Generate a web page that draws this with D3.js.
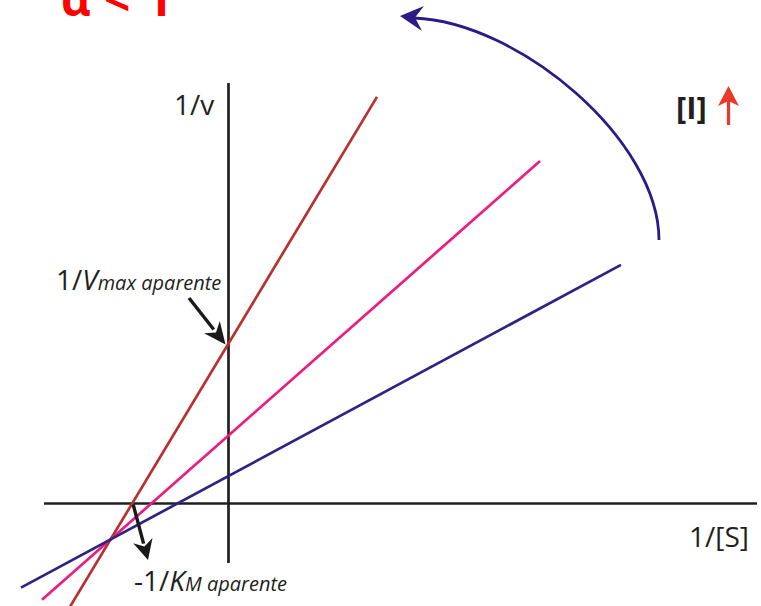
<!DOCTYPE html>
<html>
<head>
<meta charset="utf-8">
<script src="https://cdn.jsdelivr.net/npm/d3@7"></script>
<style>
  html, body { margin: 0; padding: 0; background: #ffffff; }
  svg { display: block; }
  text { font-family: "Open Sans", "Noto Sans", sans-serif; fill: #231f20; }
</style>
</head>
<body>
<script>
// Lineweaver-Burk plot, mixed inhibition (alpha < 1)
const seriesNames = ["[I] alta", "[I] media", "[I] = 0"];
const invVmax   = [1.60, 0.68, 0.275];    // y intercept: 1/Vmax aparente
const slopes    = [1.661, 0.881, 0.538];  // Km/Vmax aparente
const xFrom     = [-1.60, -1.865, -2.075];
const xTo       = [1.485, 3.115, 3.925];
const colors    = ["#b8312f", "#ec1c7e", "#2d2383"];

const W = 761, H = 606;
const svg = d3.select("body").append("svg").attr("width", W).attr("height", H);

const x = d3.scaleLinear().domain([-2.285, 5.325]).range([0, W]);
const y = d3.scaleLinear().domain([5.035, -1.025]).range([0, H]);

// axes
const axisX = [-1.845, 5.285];
const axisY = [-0.595, 4.205];
svg.append("line")
  .attr("x1", x(axisX[0])).attr("x2", x(axisX[1]))
  .attr("y1", y(0)).attr("y2", y(0))
  .attr("stroke", "#231f20").attr("stroke-width", 2.7);
svg.append("line")
  .attr("x1", x(0)).attr("x2", x(0))
  .attr("y1", y(axisY[0])).attr("y2", y(axisY[1]))
  .attr("stroke", "#231f20").attr("stroke-width", 2.7);

// inhibitor lines
const lineData = invVmax.map((b, i) => ({
  name: seriesNames[i], color: colors[i],
  pts: [xFrom[i], xTo[i]].map(v => [v, b + slopes[i] * v])
}));
const lineGen = d3.line().x(d => x(d[0])).y(d => y(d[1]));
svg.selectAll("path.serie").data(lineData).join("path")
  .attr("class", "serie")
  .attr("d", d => lineGen(d.pts))
  .attr("fill", "none")
  .attr("stroke", d => d.color)
  .attr("stroke-width", 2.7);

// axis labels
svg.append("text").attr("x", 174).attr("y", 115)
  .attr("font-size", 28).text("1/v");
svg.append("text").attr("x", 689).attr("y", 547)
  .attr("font-size", 28).text("1/[S]");

// arrow helper
function arrow(x1, y1, x2, y2, color, w, headLen, headW) {
  const ang = Math.atan2(y2 - y1, x2 - x1);
  const bx = x2 - headLen * Math.cos(ang), by = y2 - headLen * Math.sin(ang);
  svg.append("line").attr("x1", x1).attr("y1", y1)
    .attr("x2", bx + 3 * Math.cos(ang)).attr("y2", by + 3 * Math.sin(ang))
    .attr("stroke", color).attr("stroke-width", w);
  const nx = -Math.sin(ang), ny = Math.cos(ang);
  const notch = headLen * 0.3;
  const pts = [
    [x2, y2],
    [bx + nx * headW / 2, by + ny * headW / 2],
    [bx + notch * Math.cos(ang), by + notch * Math.sin(ang)],
    [bx - nx * headW / 2, by - ny * headW / 2]
  ];
  svg.append("path").attr("d", "M" + pts.map(p => p.join(",")).join("L") + "Z")
    .attr("fill", color);
}

// 1/Vmax aparente label and pointer to the intercept of the steepest line
const tV = svg.append("text").attr("x", 56).attr("y", 290).attr("font-size", 28);
tV.append("tspan").text("1/");
tV.append("tspan").attr("font-style", "italic").text("V");
tV.append("tspan").attr("font-style", "italic").attr("font-size", 20).text("max aparente");
arrow(189, 298, x(0) - 3, y(invVmax[0]) + 1, "#1a1a1a", 3.4, 22, 20);

// -1/KM aparente label and pointer from the x intercept
const kmX = -invVmax[0] / slopes[0];
arrow(x(kmX) + 1, y(0) + 1, 148, 560, "#1a1a1a", 3.4, 20, 20);
const tK = svg.append("text").attr("x", 134).attr("y", 591).attr("font-size", 28);
tK.append("tspan").text("-1/");
tK.append("tspan").attr("font-style", "italic").text("K");
tK.append("tspan").attr("font-style", "italic").attr("font-size", 20).text("M aparente");

// curved arrow showing rotation with increasing [I]
const curveColor = "#2e1a87";
svg.append("path")
  .attr("d", "M659,240 C659,140 519,22 414,18")
  .attr("fill", "none").attr("stroke", curveColor).attr("stroke-width", 2.8);
svg.append("path")
  .attr("d", "M400,16 L424,6 L415,17.5 L422,31 Z")
  .attr("fill", curveColor);

// [I] with red up arrow
svg.append("text").attr("x", 676).attr("y", 119)
  .attr("font-size", 31).attr("font-weight", "bold").text("[I]");
svg.append("line").attr("x1", 728.5).attr("x2", 728.5).attr("y1", 125).attr("y2", 100)
  .attr("stroke", "#e8392a").attr("stroke-width", 3.2);
svg.append("path").attr("d", "M728.5,86 L739,106 L728.5,101 L718,106 Z")
  .attr("fill", "#e8392a");

// alpha < 1 heading
const tA = svg.append("text").attr("y", 16).attr("font-size", 46)
  .attr("font-weight", "bold").style("fill", "#ff0000");
tA.append("tspan").attr("x", 61).text("α");
tA.append("tspan").attr("x", 104).text("<");
tA.append("tspan").attr("x", 146).text("1");
</script>
</body>
</html>
